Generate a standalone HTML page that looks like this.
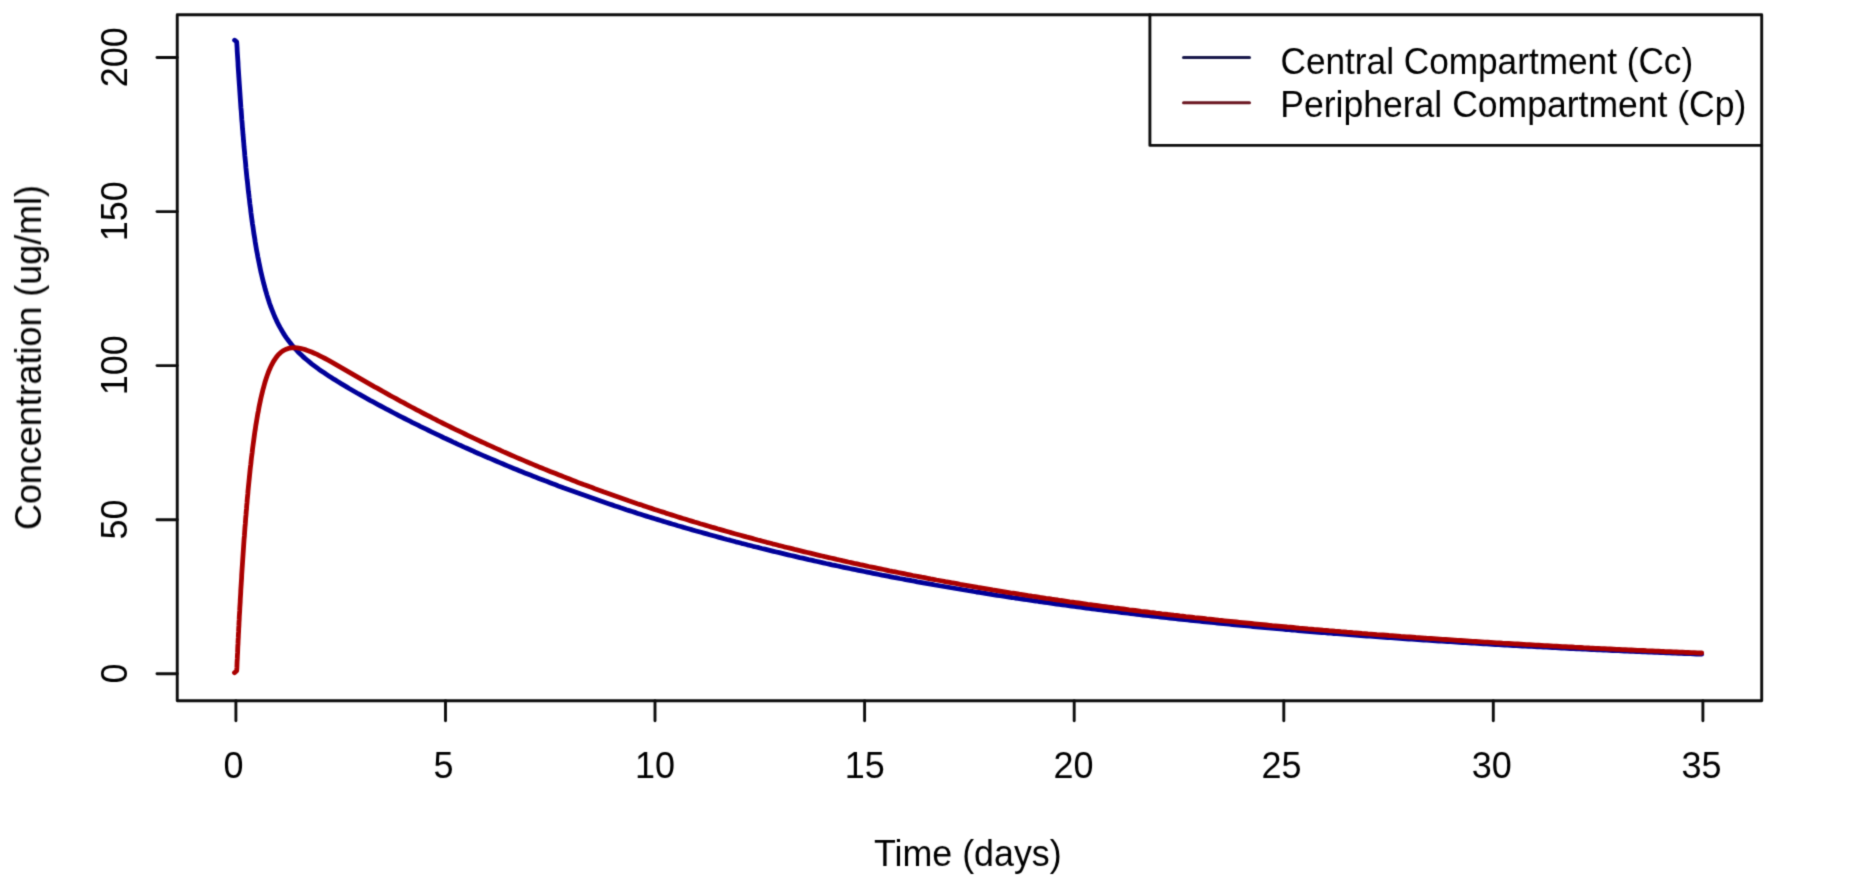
<!DOCTYPE html>
<html><head><meta charset="utf-8"><style>
html,body{margin:0;padding:0;background:#fff;width:1853px;height:878px;overflow:hidden;}
svg{display:block;}
text{font-family:"Liberation Sans",sans-serif;font-size:36px;fill:#000;}
</style></head><body>
<svg width="1853" height="878" viewBox="0 0 1853 878">
<defs><filter id="bl" x="0" y="0" width="1853" height="878" filterUnits="userSpaceOnUse" color-interpolation-filters="sRGB"><feConvolveMatrix order="3" kernelMatrix="0.0256 0.1088 0.0256 0.1088 0.4624 0.1088 0.0256 0.1088 0.0256" divisor="1" edgeMode="duplicate"/></filter></defs>
<rect x="0" y="0" width="1853" height="878" fill="#fff"/>
<g filter="url(#bl)">
<g fill="none" stroke-linejoin="round" stroke-linecap="round">
<polyline points="234.6,40.2 236.7,41.8 236.9,44.8 237.1,47.8 237.2,50.8 237.4,53.8 237.6,56.8 237.8,59.8 238.0,62.8 238.1,65.8 238.3,68.8 238.5,71.8 238.7,74.8 238.9,77.8 239.1,80.8 239.3,83.8 239.5,86.7 239.7,89.7 239.9,92.7 240.1,95.7 240.3,98.7 240.5,101.7 240.7,104.7 240.9,107.7 241.2,110.7 241.4,113.7 241.6,116.7 241.8,119.7 242.1,122.7 242.3,125.6 242.5,128.6 242.8,131.6 243.0,134.6 243.3,137.6 243.5,140.6 243.8,143.6 244.0,146.6 244.3,149.6 244.6,152.6 244.8,155.5 245.1,158.5 245.4,161.5 245.7,164.5 245.9,167.5 246.2,170.5 246.5,173.5 246.8,176.4 247.1,179.4 247.5,182.4 247.8,185.4 248.1,188.4 248.4,191.4 248.8,194.3 249.1,197.3 249.5,200.3 249.8,203.3 250.2,206.3 250.6,209.2 250.9,212.2 251.3,215.2 251.7,218.2 252.1,221.1 252.5,224.1 253.0,227.1 253.4,230.0 253.8,233.0 254.3,236.0 254.8,238.9 255.2,241.9 255.7,244.9 256.2,247.8 256.7,250.8 257.3,253.7 257.8,256.7 258.4,259.6 259.0,262.6 259.6,265.5 260.2,268.4 260.8,271.4 261.5,274.3 262.2,277.2 262.9,280.1 263.6,283.0 264.4,285.9 265.1,288.8 266.0,291.7 266.8,294.6 267.7,297.5 268.6,300.3 269.5,303.2 270.5,306.0 271.6,308.8 272.7,311.6 273.8,314.4 275.0,317.2 276.2,319.9 277.5,322.6 278.9,325.3 280.3,327.9 281.8,330.5 283.3,333.1 284.9,335.6 286.6,338.1 288.4,340.5 290.2,342.9 292.1,345.2 294.0,347.5 296.1,349.7 298.1,351.9 300.3,354.0 302.5,356.1 304.7,358.1 307.0,360.0 309.3,361.9 311.6,363.8 314.0,365.6 316.4,367.4 318.8,369.2 321.3,370.9 323.8,372.6 326.3,374.3 328.8,375.9 331.3,377.5 333.8,379.2 336.4,380.7 338.9,382.3 341.5,383.9 344.1,385.4 346.6,386.9 349.2,388.5 351.8,390.0 354.4,391.5 357.0,393.0 359.6,394.4 362.2,395.9 364.9,397.4 367.5,398.8 370.1,400.3 372.7,401.7 375.4,403.2 378.0,404.6 380.7,406.0 383.3,407.4 386.0,408.8 388.6,410.2 391.3,411.6 393.9,413.0 396.6,414.4 399.3,415.8 401.9,417.1 404.6,418.5 407.3,419.9 409.9,421.2 412.6,422.6 415.3,423.9 418.0,425.2 420.7,426.6 423.4,427.9 426.1,429.2 428.8,430.5 431.5,431.8 434.2,433.1 436.9,434.4 439.6,435.7 442.3,437.0 445.0,438.3 447.7,439.5 450.5,440.8 453.2,442.1 455.9,443.3 458.6,444.6 461.4,445.8 464.1,447.1 466.8,448.3 469.6,449.5 472.3,450.7 475.0,452.0 477.8,453.2 480.5,454.4 483.3,455.6 486.0,456.8 488.8,457.9 491.6,459.1 494.3,460.3 497.1,461.5 499.8,462.6 502.6,463.8 505.4,465.0 508.1,466.1 510.9,467.3 513.7,468.4 516.5,469.5 519.3,470.7 522.0,471.8 524.8,472.9 527.6,474.0 530.4,475.1 533.2,476.2 536.0,477.3 538.8,478.4 541.6,479.5 544.4,480.6 547.2,481.6 550.0,482.7 552.8,483.8 555.6,484.8 558.4,485.9 561.2,486.9 564.0,488.0 566.8,489.0 569.6,490.0 572.5,491.1 575.3,492.1 578.1,493.1 580.9,494.1 583.8,495.1 586.6,496.1 589.4,497.1 592.2,498.1 595.1,499.1 597.9,500.1 600.7,501.1 603.6,502.1 606.4,503.0 609.3,504.0 612.1,504.9 615.0,505.9 617.8,506.8 620.6,507.8 623.5,508.7 626.3,509.7 629.2,510.6 632.1,511.5 634.9,512.4 637.8,513.4 640.6,514.3 643.5,515.2 646.3,516.1 649.2,517.0 652.1,517.9 654.9,518.7 657.8,519.6 660.7,520.5 663.5,521.4 666.4,522.2 669.3,523.1 672.2,524.0 675.0,524.8 677.9,525.7 680.8,526.5 683.7,527.4 686.6,528.2 689.4,529.0 692.3,529.9 695.2,530.7 698.1,531.5 701.0,532.3 703.9,533.1 706.8,533.9 709.6,534.7 712.5,535.5 715.4,536.3 718.3,537.1 721.2,537.9 724.1,538.7 727.0,539.5 729.9,540.2 732.8,541.0 735.7,541.8 738.6,542.5 741.5,543.3 744.4,544.0 747.3,544.8 750.2,545.5 753.1,546.3 756.1,547.0 759.0,547.7 761.9,548.5 764.8,549.2 767.7,549.9 770.6,550.6 773.5,551.3 776.4,552.0 779.4,552.7 782.3,553.4 785.2,554.1 788.1,554.8 791.0,555.5 794.0,556.2 796.9,556.9 799.8,557.6 802.7,558.2 805.6,558.9 808.6,559.6 811.5,560.2 814.4,560.9 817.3,561.5 820.3,562.2 823.2,562.8 826.1,563.5 829.1,564.1 832.0,564.8 834.9,565.4 837.9,566.0 840.8,566.7 843.7,567.3 846.7,567.9 849.6,568.5 852.5,569.1 855.5,569.7 858.4,570.3 861.4,570.9 864.3,571.5 867.2,572.1 870.2,572.7 873.1,573.3 876.1,573.9 879.0,574.5 881.9,575.1 884.9,575.6 887.8,576.2 890.8,576.8 893.7,577.4 896.7,577.9 899.6,578.5 902.6,579.0 905.5,579.6 908.5,580.1 911.4,580.7 914.4,581.2 917.3,581.8 920.3,582.3 923.2,582.8 926.2,583.4 929.1,583.9 932.1,584.4 935.0,585.0 938.0,585.5 940.9,586.0 943.9,586.5 946.9,587.0 949.8,587.5 952.8,588.0 955.7,588.5 958.7,589.0 961.6,589.5 964.6,590.0 967.6,590.5 970.5,591.0 973.5,591.5 976.4,592.0 979.4,592.4 982.4,592.9 985.3,593.4 988.3,593.9 991.3,594.3 994.2,594.8 997.2,595.3 1000.1,595.7 1003.1,596.2 1006.1,596.6 1009.0,597.1 1012.0,597.5 1015.0,598.0 1017.9,598.4 1020.9,598.9 1023.9,599.3 1026.8,599.7 1029.8,600.2 1032.8,600.6 1035.8,601.0 1038.7,601.5 1041.7,601.9 1044.7,602.3 1047.6,602.7 1050.6,603.2 1053.6,603.6 1056.5,604.0 1059.5,604.4 1062.5,604.8 1065.5,605.2 1068.4,605.6 1071.4,606.0 1074.4,606.4 1077.4,606.8 1080.3,607.2 1083.3,607.6 1086.3,608.0 1089.3,608.4 1092.2,608.8 1095.2,609.1 1098.2,609.5 1101.2,609.9 1104.1,610.3 1107.1,610.6 1110.1,611.0 1113.1,611.4 1116.0,611.7 1119.0,612.1 1122.0,612.5 1125.0,612.8 1128.0,613.2 1130.9,613.6 1133.9,613.9 1136.9,614.3 1139.9,614.6 1142.8,615.0 1145.8,615.3 1148.8,615.6 1151.8,616.0 1154.8,616.3 1157.8,616.7 1160.7,617.0 1163.7,617.3 1166.7,617.7 1169.7,618.0 1172.7,618.3 1175.6,618.7 1178.6,619.0 1181.6,619.3 1184.6,619.6 1187.6,619.9 1190.6,620.3 1193.5,620.6 1196.5,620.9 1199.5,621.2 1202.5,621.5 1205.5,621.8 1208.5,622.1 1211.4,622.4 1214.4,622.7 1217.4,623.0 1220.4,623.3 1223.4,623.6 1226.4,623.9 1229.4,624.2 1232.3,624.5 1235.3,624.8 1238.3,625.1 1241.3,625.4 1244.3,625.7 1247.3,625.9 1250.3,626.2 1253.2,626.5 1256.2,626.8 1259.2,627.1 1262.2,627.3 1265.2,627.6 1268.2,627.9 1271.2,628.1 1274.2,628.4 1277.1,628.7 1280.1,628.9 1283.1,629.2 1286.1,629.5 1289.1,629.7 1292.1,630.0 1295.1,630.2 1298.1,630.5 1301.1,630.8 1304.0,631.0 1307.0,631.3 1310.0,631.5 1313.0,631.8 1316.0,632.0 1319.0,632.3 1322.0,632.5 1325.0,632.7 1328.0,633.0 1331.0,633.2 1333.9,633.5 1336.9,633.7 1339.9,633.9 1342.9,634.2 1345.9,634.4 1348.9,634.6 1351.9,634.9 1354.9,635.1 1357.9,635.3 1360.9,635.5 1363.9,635.8 1366.8,636.0 1369.8,636.2 1372.8,636.4 1375.8,636.7 1378.8,636.9 1381.8,637.1 1384.8,637.3 1387.8,637.5 1390.8,637.7 1393.8,637.9 1396.8,638.2 1399.8,638.4 1402.8,638.6 1405.7,638.8 1408.7,639.0 1411.7,639.2 1414.7,639.4 1417.7,639.6 1420.7,639.8 1423.7,640.0 1426.7,640.2 1429.7,640.4 1432.7,640.6 1435.7,640.8 1438.7,641.0 1441.7,641.2 1444.7,641.4 1447.7,641.6 1450.6,641.7 1453.6,641.9 1456.6,642.1 1459.6,642.3 1462.6,642.5 1465.6,642.7 1468.6,642.9 1471.6,643.0 1474.6,643.2 1477.6,643.4 1480.6,643.6 1483.6,643.8 1486.6,643.9 1489.6,644.1 1492.6,644.3 1495.6,644.5 1498.6,644.6 1501.6,644.8 1504.6,645.0 1507.5,645.1 1510.5,645.3 1513.5,645.5 1516.5,645.6 1519.5,645.8 1522.5,646.0 1525.5,646.1 1528.5,646.3 1531.5,646.4 1534.5,646.6 1537.5,646.8 1540.5,646.9 1543.5,647.1 1546.5,647.2 1549.5,647.4 1552.5,647.5 1555.5,647.7 1558.5,647.9 1561.5,648.0 1564.5,648.2 1567.5,648.3 1570.5,648.5 1573.5,648.6 1576.5,648.8 1579.4,648.9 1582.4,649.0 1585.4,649.2 1588.4,649.3 1591.4,649.5 1594.4,649.6 1597.4,649.8 1600.4,649.9 1603.4,650.0 1606.4,650.2 1609.4,650.3 1612.4,650.5 1615.4,650.6 1618.4,650.7 1621.4,650.9 1624.4,651.0 1627.4,651.1 1630.4,651.3 1633.4,651.4 1636.4,651.5 1639.4,651.7 1642.4,651.8 1645.4,651.9 1648.4,652.0 1651.4,652.2 1654.4,652.3 1657.4,652.4 1660.4,652.5 1663.4,652.7 1666.4,652.8 1669.4,652.9 1672.4,653.0 1675.4,653.2 1678.4,653.3 1681.3,653.4 1684.3,653.5 1687.3,653.6 1690.3,653.7 1693.3,653.9 1696.3,654.0 1699.3,654.1 1701.7,654.2" stroke="#000099" stroke-width="4.8"/>
<polyline points="234.5,672.7 236.7,670.7 236.9,667.7 237.0,664.7 237.1,661.7 237.3,658.7 237.4,655.7 237.6,652.7 237.7,649.7 237.8,646.7 238.0,643.7 238.1,640.7 238.3,637.7 238.4,634.7 238.6,631.7 238.7,628.7 238.9,625.7 239.0,622.7 239.2,619.7 239.3,616.7 239.5,613.7 239.7,610.7 239.8,607.8 240.0,604.8 240.2,601.8 240.3,598.8 240.5,595.8 240.7,592.8 240.8,589.8 241.0,586.8 241.2,583.8 241.4,580.8 241.6,577.8 241.7,574.8 241.9,571.8 242.1,568.8 242.3,565.8 242.5,562.8 242.7,559.8 242.9,556.8 243.1,553.8 243.3,550.9 243.5,547.9 243.7,544.9 243.9,541.9 244.1,538.9 244.4,535.9 244.6,532.9 244.8,529.9 245.0,526.9 245.3,523.9 245.5,520.9 245.7,517.9 246.0,515.0 246.2,512.0 246.5,509.0 246.7,506.0 247.0,503.0 247.2,500.0 247.5,497.0 247.8,494.0 248.0,491.0 248.3,488.1 248.6,485.1 248.9,482.1 249.2,479.1 249.5,476.1 249.8,473.1 250.1,470.1 250.4,467.2 250.8,464.2 251.1,461.2 251.4,458.2 251.8,455.2 252.2,452.3 252.5,449.3 252.9,446.3 253.3,443.3 253.7,440.4 254.1,437.4 254.5,434.4 254.9,431.5 255.4,428.5 255.8,425.5 256.3,422.6 256.8,419.6 257.3,416.6 257.8,413.7 258.4,410.7 258.9,407.8 259.5,404.8 260.1,401.9 260.7,399.0 261.4,396.0 262.1,393.1 262.8,390.2 263.6,387.3 264.4,384.4 265.2,381.5 266.1,378.7 267.1,375.8 268.1,373.0 269.2,370.2 270.4,367.5 271.7,364.8 273.1,362.1 274.7,359.6 276.4,357.1 278.3,354.8 280.5,352.7 282.9,350.9 285.5,349.5 288.3,348.4 291.3,347.8 294.2,347.6 297.2,347.8 300.2,348.3 303.1,349.0 306.0,349.9 308.8,350.9 311.6,352.0 314.3,353.2 317.1,354.4 319.8,355.8 322.4,357.1 325.1,358.5 327.7,359.9 330.4,361.4 333.0,362.8 335.6,364.3 338.2,365.8 340.8,367.3 343.4,368.8 346.0,370.3 348.6,371.8 351.2,373.3 353.8,374.8 356.4,376.3 359.0,377.8 361.6,379.3 364.2,380.8 366.8,382.3 369.4,383.8 372.0,385.3 374.6,386.8 377.2,388.2 379.8,389.7 382.4,391.2 385.1,392.6 387.7,394.1 390.3,395.6 392.9,397.0 395.6,398.4 398.2,399.9 400.8,401.3 403.5,402.7 406.1,404.2 408.8,405.6 411.4,407.0 414.1,408.4 416.7,409.8 419.4,411.2 422.0,412.6 424.7,414.0 427.4,415.3 430.0,416.7 432.7,418.1 435.4,419.4 438.0,420.8 440.7,422.1 443.4,423.5 446.1,424.8 448.8,426.1 451.5,427.5 454.2,428.8 456.9,430.1 459.6,431.4 462.3,432.7 465.0,434.0 467.7,435.3 470.4,436.6 473.1,437.9 475.8,439.1 478.5,440.4 481.3,441.7 484.0,442.9 486.7,444.2 489.4,445.4 492.2,446.6 494.9,447.9 497.7,449.1 500.4,450.3 503.1,451.6 505.9,452.8 508.6,454.0 511.4,455.2 514.1,456.4 516.9,457.6 519.6,458.7 522.4,459.9 525.2,461.1 527.9,462.3 530.7,463.4 533.5,464.6 536.2,465.7 539.0,466.9 541.8,468.0 544.5,469.1 547.3,470.3 550.1,471.4 552.9,472.5 555.7,473.6 558.5,474.7 561.3,475.8 564.0,476.9 566.8,478.0 569.6,479.1 572.4,480.2 575.2,481.3 578.0,482.4 580.8,483.4 583.6,484.5 586.5,485.5 589.3,486.6 592.1,487.6 594.9,488.7 597.7,489.7 600.5,490.7 603.3,491.8 606.2,492.8 609.0,493.8 611.8,494.8 614.6,495.8 617.5,496.8 620.3,497.8 623.1,498.8 626.0,499.8 628.8,500.8 631.6,501.7 634.5,502.7 637.3,503.7 640.2,504.6 643.0,505.6 645.8,506.5 648.7,507.5 651.5,508.4 654.4,509.4 657.2,510.3 660.1,511.2 663.0,512.1 665.8,513.1 668.7,514.0 671.5,514.9 674.4,515.8 677.3,516.7 680.1,517.6 683.0,518.5 685.8,519.3 688.7,520.2 691.6,521.1 694.5,522.0 697.3,522.8 700.2,523.7 703.1,524.5 706.0,525.4 708.8,526.2 711.7,527.1 714.6,527.9 717.5,528.8 720.4,529.6 723.2,530.4 726.1,531.2 729.0,532.0 731.9,532.9 734.8,533.7 737.7,534.5 740.6,535.3 743.5,536.1 746.4,536.9 749.3,537.6 752.2,538.4 755.0,539.2 757.9,540.0 760.8,540.7 763.7,541.5 766.7,542.3 769.6,543.0 772.5,543.8 775.4,544.5 778.3,545.3 781.2,546.0 784.1,546.8 787.0,547.5 789.9,548.2 792.8,548.9 795.7,549.7 798.6,550.4 801.6,551.1 804.5,551.8 807.4,552.5 810.3,553.2 813.2,553.9 816.1,554.6 819.1,555.3 822.0,556.0 824.9,556.7 827.8,557.3 830.7,558.0 833.7,558.7 836.6,559.4 839.5,560.0 842.4,560.7 845.4,561.3 848.3,562.0 851.2,562.6 854.2,563.3 857.1,563.9 860.0,564.6 863.0,565.2 865.9,565.8 868.8,566.5 871.8,567.1 874.7,567.7 877.6,568.3 880.6,568.9 883.5,569.5 886.4,570.1 889.4,570.8 892.3,571.4 895.3,571.9 898.2,572.5 901.1,573.1 904.1,573.7 907.0,574.3 910.0,574.9 912.9,575.5 915.9,576.0 918.8,576.6 921.7,577.2 924.7,577.7 927.6,578.3 930.6,578.9 933.5,579.4 936.5,580.0 939.4,580.5 942.4,581.0 945.3,581.6 948.3,582.1 951.2,582.7 954.2,583.2 957.1,583.7 960.1,584.3 963.0,584.8 966.0,585.3 969.0,585.8 971.9,586.3 974.9,586.8 977.8,587.4 980.8,587.9 983.7,588.4 986.7,588.9 989.7,589.4 992.6,589.9 995.6,590.3 998.5,590.8 1001.5,591.3 1004.5,591.8 1007.4,592.3 1010.4,592.8 1013.3,593.2 1016.3,593.7 1019.3,594.2 1022.2,594.6 1025.2,595.1 1028.2,595.6 1031.1,596.0 1034.1,596.5 1037.1,596.9 1040.0,597.4 1043.0,597.8 1046.0,598.3 1048.9,598.7 1051.9,599.2 1054.9,599.6 1057.8,600.0 1060.8,600.5 1063.8,600.9 1066.7,601.3 1069.7,601.8 1072.7,602.2 1075.6,602.6 1078.6,603.0 1081.6,603.4 1084.6,603.8 1087.5,604.3 1090.5,604.7 1093.5,605.1 1096.4,605.5 1099.4,605.9 1102.4,606.3 1105.4,606.7 1108.3,607.1 1111.3,607.5 1114.3,607.9 1117.3,608.2 1120.2,608.6 1123.2,609.0 1126.2,609.4 1129.2,609.8 1132.1,610.1 1135.1,610.5 1138.1,610.9 1141.1,611.3 1144.0,611.6 1147.0,612.0 1150.0,612.4 1153.0,612.7 1156.0,613.1 1158.9,613.4 1161.9,613.8 1164.9,614.1 1167.9,614.5 1170.9,614.8 1173.8,615.2 1176.8,615.5 1179.8,615.9 1182.8,616.2 1185.8,616.6 1188.7,616.9 1191.7,617.2 1194.7,617.6 1197.7,617.9 1200.7,618.2 1203.6,618.5 1206.6,618.9 1209.6,619.2 1212.6,619.5 1215.6,619.8 1218.6,620.2 1221.5,620.5 1224.5,620.8 1227.5,621.1 1230.5,621.4 1233.5,621.7 1236.5,622.0 1239.4,622.3 1242.4,622.6 1245.4,622.9 1248.4,623.2 1251.4,623.5 1254.4,623.8 1257.4,624.1 1260.3,624.4 1263.3,624.7 1266.3,625.0 1269.3,625.3 1272.3,625.6 1275.3,625.8 1278.3,626.1 1281.2,626.4 1284.2,626.7 1287.2,627.0 1290.2,627.2 1293.2,627.5 1296.2,627.8 1299.2,628.1 1302.2,628.3 1305.1,628.6 1308.1,628.9 1311.1,629.1 1314.1,629.4 1317.1,629.6 1320.1,629.9 1323.1,630.2 1326.1,630.4 1329.1,630.7 1332.0,630.9 1335.0,631.2 1338.0,631.4 1341.0,631.7 1344.0,631.9 1347.0,632.2 1350.0,632.4 1353.0,632.7 1356.0,632.9 1359.0,633.1 1361.9,633.4 1364.9,633.6 1367.9,633.9 1370.9,634.1 1373.9,634.3 1376.9,634.6 1379.9,634.8 1382.9,635.0 1385.9,635.2 1388.9,635.5 1391.9,635.7 1394.8,635.9 1397.8,636.1 1400.8,636.4 1403.8,636.6 1406.8,636.8 1409.8,637.0 1412.8,637.2 1415.8,637.5 1418.8,637.7 1421.8,637.9 1424.8,638.1 1427.8,638.3 1430.8,638.5 1433.7,638.7 1436.7,638.9 1439.7,639.1 1442.7,639.3 1445.7,639.5 1448.7,639.7 1451.7,639.9 1454.7,640.1 1457.7,640.3 1460.7,640.5 1463.7,640.7 1466.7,640.9 1469.7,641.1 1472.7,641.3 1475.7,641.5 1478.7,641.7 1481.6,641.9 1484.6,642.1 1487.6,642.2 1490.6,642.4 1493.6,642.6 1496.6,642.8 1499.6,643.0 1502.6,643.2 1505.6,643.3 1508.6,643.5 1511.6,643.7 1514.6,643.9 1517.6,644.0 1520.6,644.2 1523.6,644.4 1526.6,644.6 1529.6,644.7 1532.6,644.9 1535.5,645.1 1538.5,645.2 1541.5,645.4 1544.5,645.6 1547.5,645.7 1550.5,645.9 1553.5,646.1 1556.5,646.2 1559.5,646.4 1562.5,646.6 1565.5,646.7 1568.5,646.9 1571.5,647.0 1574.5,647.2 1577.5,647.3 1580.5,647.5 1583.5,647.7 1586.5,647.8 1589.5,648.0 1592.5,648.1 1595.5,648.3 1598.5,648.4 1601.5,648.6 1604.5,648.7 1607.5,648.9 1610.4,649.0 1613.4,649.1 1616.4,649.3 1619.4,649.4 1622.4,649.6 1625.4,649.7 1628.4,649.9 1631.4,650.0 1634.4,650.1 1637.4,650.3 1640.4,650.4 1643.4,650.5 1646.4,650.7 1649.4,650.8 1652.4,650.9 1655.4,651.1 1658.4,651.2 1661.4,651.3 1664.4,651.5 1667.4,651.6 1670.4,651.7 1673.4,651.9 1676.4,652.0 1679.4,652.1 1682.4,652.2 1685.4,652.4 1688.4,652.5 1691.4,652.6 1694.4,652.7 1697.4,652.9 1700.4,653.0 1701.7,653.0" stroke="#aa0000" stroke-width="4.8"/>
</g>
<g stroke="#0c0c0c" stroke-width="2.9" fill="none" stroke-linecap="round" stroke-linejoin="round">
<rect x="177.25" y="14.75" width="1584.45" height="686.05"/>
<line x1="235.9" y1="700.8" x2="235.9" y2="720.7"/><line x1="445.5" y1="700.8" x2="445.5" y2="720.7"/><line x1="655.0" y1="700.8" x2="655.0" y2="720.7"/><line x1="864.6" y1="700.8" x2="864.6" y2="720.7"/><line x1="1074.2" y1="700.8" x2="1074.2" y2="720.7"/><line x1="1283.8" y1="700.8" x2="1283.8" y2="720.7"/><line x1="1493.3" y1="700.8" x2="1493.3" y2="720.7"/><line x1="1702.9" y1="700.8" x2="1702.9" y2="720.7"/><line x1="157" y1="673.7" x2="177.25" y2="673.7"/><line x1="157" y1="519.7" x2="177.25" y2="519.7"/><line x1="157" y1="365.6" x2="177.25" y2="365.6"/><line x1="157" y1="211.6" x2="177.25" y2="211.6"/><line x1="157" y1="57.5" x2="177.25" y2="57.5"/>
<polyline points="1149.9,14.75 1149.9,145.4 1761.7,145.4"/>
</g>
<g stroke-width="3" stroke-linecap="round">
<line x1="1183.5" y1="57.6" x2="1249.5" y2="57.6" stroke="#1a1a4c"/>
<line x1="1183.5" y1="102.8" x2="1249.5" y2="102.8" stroke="#6a1620"/>
</g>
<g text-anchor="middle">
<text transform="translate(233.4,778.3) scale(1,1.04)">0</text><text transform="translate(443.5,778.3) scale(1,1.04)">5</text><text transform="translate(654.9,778.3) scale(1,1.04)">10</text><text transform="translate(864.8,778.3) scale(1,1.04)">15</text><text transform="translate(1073.6,778.3) scale(1,1.04)">20</text><text transform="translate(1281.5,778.3) scale(1,1.04)">25</text><text transform="translate(1491.7,778.3) scale(1,1.04)">30</text><text transform="translate(1701.4,778.3) scale(1,1.04)">35</text>
<text transform="translate(126.6,673.4) rotate(-90) scale(1,1.04)">0</text><text transform="translate(126.6,519.4) rotate(-90) scale(1,1.04)">50</text><text transform="translate(126.6,365.3) rotate(-90) scale(1,1.04)">100</text><text transform="translate(126.6,211.2) rotate(-90) scale(1,1.04)">150</text><text transform="translate(126.6,57.2) rotate(-90) scale(1,1.04)">200</text>
<text transform="translate(967.8,866.0) scale(1,1.04)" style="font-size:35.8px">Time (days)</text>
<text transform="translate(41.3,357.5) rotate(-90) scale(1,1.04)" style="font-size:35.9px">Concentration (ug/ml)</text>
</g>
<text transform="translate(1280.5,74.2) scale(1,1.04)" style="font-size:35.2px">Central Compartment (Cc)</text>
<text transform="translate(1280.3,116.6) scale(1,1.04)" style="font-size:35.55px">Peripheral Compartment (Cp)</text>
</g>
</svg>
</body></html>
